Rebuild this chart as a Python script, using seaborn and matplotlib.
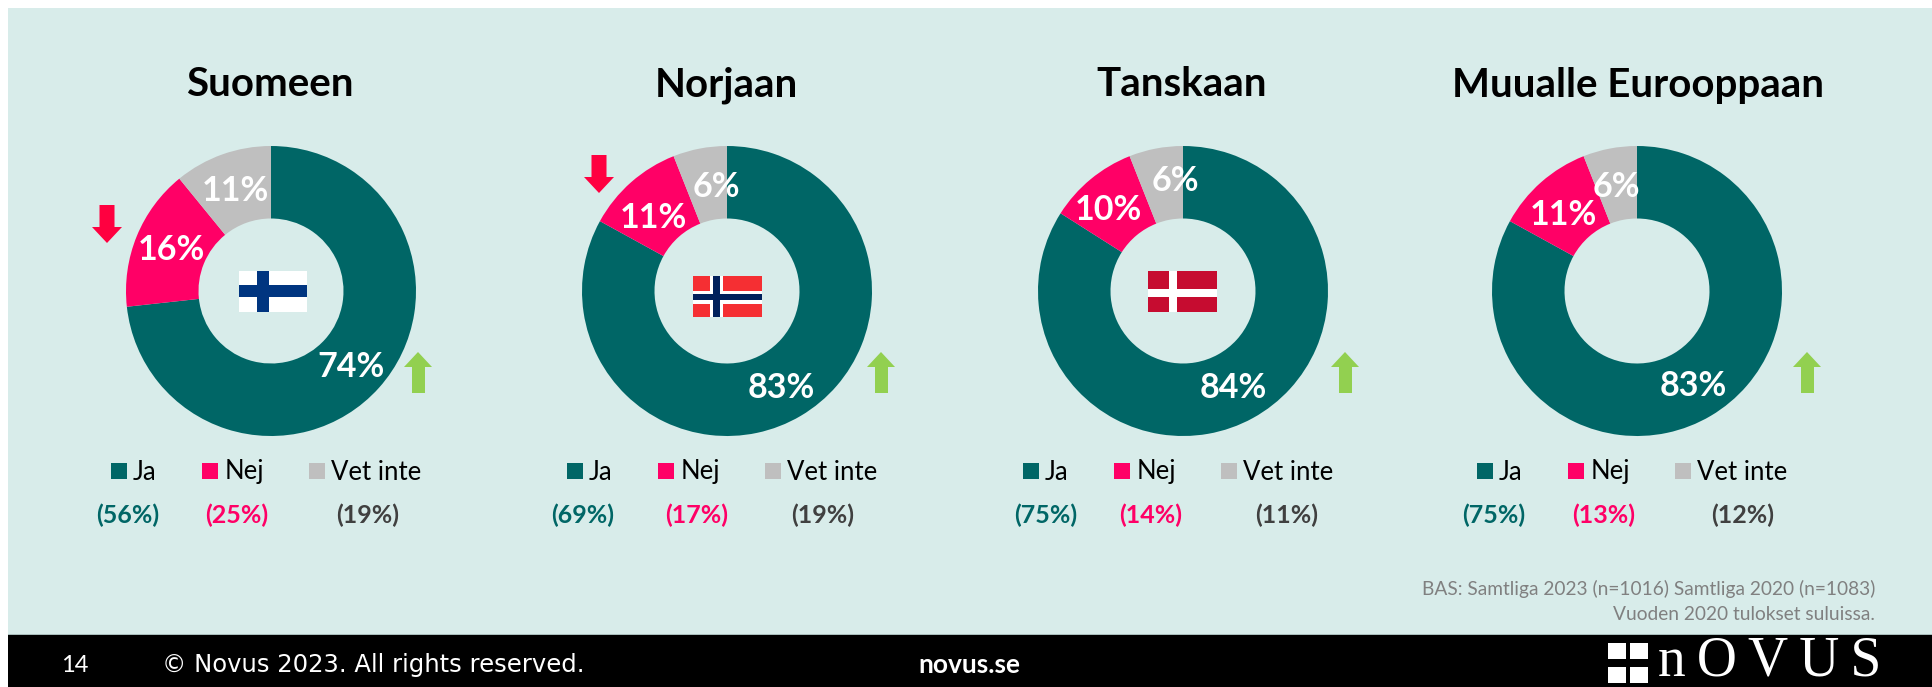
import matplotlib
matplotlib.use('Agg')
import matplotlib.pyplot as plt
from matplotlib.patches import Rectangle, Polygon
import seaborn as sns

titles = ['Suomeen', 'Norjaan', 'Tanskaan', 'Muualle Eurooppaan']
answers = ['Ja', 'Nej', 'Vet inte']
ja_2023 = [74, 83, 84, 83]
nej_2023 = [16, 11, 10, 11]
vet_2023 = [11, 6, 6, 6]
ja_2020 = [56, 69, 75, 75]
nej_2020 = [25, 17, 14, 13]
vet_2020 = [19, 19, 11, 12]
note_lines = ['BAS: Samtliga 2023 (n=1016) Samtliga 2020 (n=1083)', 'Vuoden 2020 tulokset suluissa.']

# layout, in pixels of the 1932x687 picture
centers = [271, 727, 1183, 1637]
cy = 291
r_out = 145
r_in = 72.5
title_off = [-1, -1, -1, 1]
label_off = [[(80, 74), (-100, -43), (-36, -102)],
             [(54, 95), (-74, -75), (-11, -106)],
             [(50, 95), (-75, -83), (-8, -112)],
             [(56, 93), (-74, -78), (-21, -106)]]
old_off = [[-143, -34, 97], [-144, -30, 96], [-137, -32, 104], [-143, -33, 106]]
green_x = [418, 881, 1345, 1807]
red_x = [107, 599]
red_top = [205, 155]

W, H = 1932, 687
GREEN = '#006666'
PINK = '#ff0066'
GREY = '#bfbfbf'
BG = '#d8ecea'

sns.set_theme(style='white')
plt.rcParams['font.family'] = ['Lato', 'DejaVu Sans']
colors = sns.color_palette([GREEN, PINK, GREY])

fig = plt.figure(figsize=(W / 100, H / 100), dpi=100, facecolor='white')
over = fig.add_axes([0, 0, 1, 1], zorder=1)
over.set_xlim(0, W)
over.set_ylim(H, 0)
over.axis('off')
over.patch.set_alpha(0)

over.add_patch(Rectangle((8, 8), W - 8, 627, color=BG, lw=0))
over.add_patch(Rectangle((8, 635), W - 8, 52, color='black', lw=0))
over.add_patch(Rectangle((8, 634), W - 8, 1, color='#a9bdbb', lw=0))


def box(x, y, w, h, c):
    over.add_patch(Rectangle((x, y), w, h, color=c, lw=0, zorder=3))


for i, t in enumerate(titles):
    cx = centers[i]
    ax = fig.add_axes([(cx - r_out) / W, 1 - (cy + r_out) / H, 2 * r_out / W, 2 * r_out / H], zorder=2)
    vals = [ja_2023[i], nej_2023[i], vet_2023[i]]
    ax.pie(vals, colors=colors, startangle=90, counterclock=False, radius=1,
           wedgeprops={'width': 1 - r_in / r_out, 'linewidth': 0})
    ax.set_xlim(-1, 1)
    ax.set_ylim(-1, 1)
    for v, (dx, dy) in zip(vals, label_off[i]):
        ax.annotate(f'{v}%', xy=(dx / r_out, -(dy + 2) / r_out), ha='center', va='center',
                    color='white', fontsize=24.5, fontweight='bold', annotation_clip=False)

    over.text(cx + title_off[i], 85, t, ha='center', va='center', fontsize=29, fontweight='bold', color='black')

    for name, c, sq, tx in zip(answers, colors, [-160, -69, 38], [-138, -46, 60]):
        box(cx + sq, 463, 16, 16, c)
        over.text(cx + tx, 472, name, ha='left', va='center', fontsize=18.5, color='black')
    for off, old, c in zip(old_off[i], [ja_2020[i], nej_2020[i], vet_2020[i]], [GREEN, PINK, '#404040']):
        over.text(cx + off, 515, f'({old}%)', ha='center', va='center', fontsize=18, fontweight='bold', color=c)

    gx = green_x[i]
    over.add_patch(Polygon([(gx, 352), (gx + 14, 367), (gx + 7, 367), (gx + 7, 393), (gx - 6, 393), (gx - 6, 367),
                            (gx - 14, 367)], color='#92d050', lw=0, zorder=3))

for x, top in zip(red_x, red_top):
    over.add_patch(Polygon([(x - 7.5, top), (x + 7.5, top), (x + 7.5, top + 22), (x + 15, top + 22), (x, top + 38),
                            (x - 15, top + 22), (x - 7.5, top + 22)], color='#ff0040', lw=0, zorder=3))

# flags
box(239, 271, 68, 41, 'white')
box(257, 271, 12, 41, '#003580')
box(239, 285, 68, 12, '#003580')

box(693, 276, 69, 41, '#f52f33')
box(710, 276, 13, 41, 'white')
box(693, 291, 69, 13, 'white')
box(713, 276, 7, 41, '#00205b')
box(693, 294, 69, 6, '#00205b')

box(1148, 271, 69, 41, '#c60c30')
box(1169, 271, 8, 41, 'white')
box(1148, 289, 69, 8, 'white')

# footer
for k, line in enumerate(note_lines):
    over.text(1875, 589 + 25 * k, line, ha='right', va='center', fontsize=13.8, color='#808080')
over.text(61, 665, '14', ha='left', va='center', fontsize=17, color='white')
over.text(162, 665, '\u00a9 Novus 2023. All rights reserved.', ha='left', va='center', fontsize=17.5, color='white',
          family='DejaVu Sans')
over.text(918, 665, 'novus.se', ha='left', va='center', fontsize=19, fontweight='bold', color='white')

# logo
for x in (1608, 1630):
    for y in (643, 667):
        box(x, y, 18, 16, 'white')
over.text(1658, 675, 'n\u2009O\u2009V\u2009U\u2009S', ha='left', va='baseline', fontsize=40, color='white',
          family='Liberation Serif')

fig.savefig('out.png', dpi=100)
